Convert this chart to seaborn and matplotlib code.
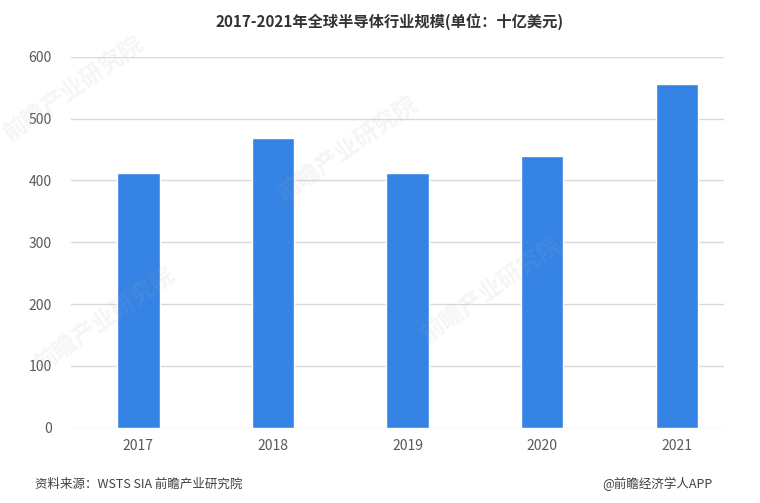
import matplotlib
matplotlib.use("Agg")
import matplotlib.pyplot as plt
import seaborn as sns
import pandas as pd

years = ["2017", "2018", "2019", "2020", "2021"]
values = [412, 469, 412, 440, 556]
y_ticks = [0, 100, 200, 300, 400, 500, 600]

title = "2017-2021年全球半导体行业规模(单位：十亿美元)"
source = "资料来源：WSTS SIA 前瞻产业研究院"
credit = "@前瞻经济学人APP"

sns.set_theme(style="white")
plt.rcParams['font.family'] = ['Noto Sans CJK SC', 'DejaVu Sans']

df = pd.DataFrame({"year": years, "value": values})

fig = plt.figure(figsize=(7.6, 5.03), dpi=100)
ax = fig.add_axes([0.0934, 0.1497, 0.8592, 0.7376])

sns.barplot(data=df, x="year", y="value", color="#3483E5", width=0.316,
            saturation=1, ax=ax, zorder=3)

ax.set_ylim(0, 600)
ax.set_xlim(-0.5, 4.35)
ax.set_yticks(y_ticks)
ax.yaxis.grid(True, color="#D9D9D9", linewidth=1, zorder=0)
ax.set_axisbelow(True)
for s in ax.spines.values():
    s.set_visible(False)
ax.set_xlabel("")
ax.set_ylabel("")
ax.tick_params(axis="both", length=0, labelsize=10, colors="#595959")
ax.tick_params(axis="y", pad=14)
ax.tick_params(axis="x", pad=8)

# faint watermarks
for (x, y) in [(0.0, 0.72), (0.36, 0.60), (0.04, 0.26), (0.55, 0.32)]:
    fig.text(x, y, "前瞻产业研究院", fontsize=17, color="#B0B0B0", alpha=0.12,
             rotation=35, fontweight="bold", zorder=0)

fig.text(0.513, 0.957, title, ha="center", va="center", fontsize=11,
         fontweight="bold", color="#333333")
fig.text(0.046, 0.037, source, ha="left", va="center", fontsize=9,
         color="#404040")
fig.text(0.938, 0.037, credit, ha="right", va="center", fontsize=9,
         color="#404040")

fig.savefig("out.png", dpi=100)
